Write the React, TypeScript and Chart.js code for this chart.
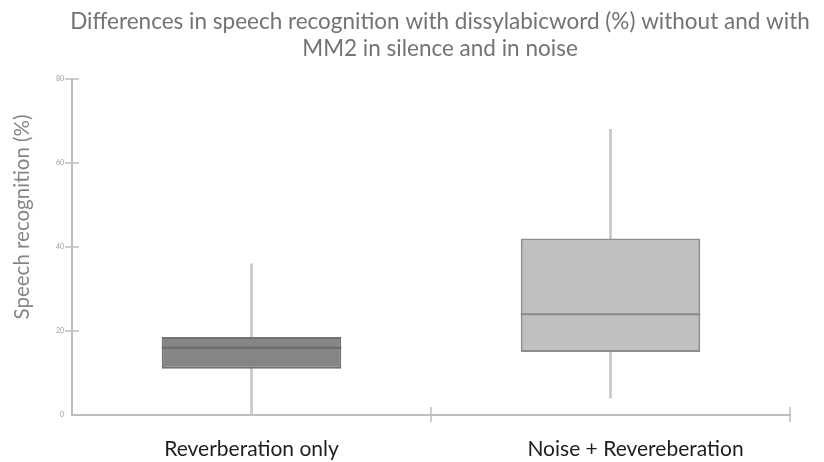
import React, { useEffect, useRef } from 'react';
import { Chart, registerables } from 'chart.js';

Chart.register(...registerables);

const categories = ['Reverberation only', 'Noise + Revereberation'];
const whiskerMin = [0, 4];
const q1 = [11, 15];
const median = [16, 24];
const q3 = [18.6, 42];
const whiskerMax = [36, 68];
const yTicks = [0, 20, 40, 60, 80];
const titleLines = [
  'Differences in speech recognition with dissylabicword (%) without and with',
  'MM2 in silence and in noise',
];
const yTitle = 'Speech recognition (%)';

const FONT = 'Lato, "Open Sans", sans-serif';
const LABEL_SHIFT = [0, 25];

const decorPlugin = {
  id: 'decor',
  afterDraw(chart: any) {
    const ctx = chart.ctx;
    const x = chart.scales.x;
    const y = chart.scales.y;
    const area = chart.chartArea;
    ctx.save();
    // crossing tick marks
    ctx.strokeStyle = '#bdbdbd';
    ctx.lineWidth = 1.5;
    ctx.beginPath();
    y.ticks.forEach((_t: any, i: number) => {
      if (i === 0) return;
      const py = y.getPixelForTick(i);
      ctx.moveTo(area.left - 7, py);
      ctx.lineTo(area.left + 7, py);
    });
    for (let i = 0; i < categories.length; i++) {
      const px = x.getPixelForValue(i + 0.5);
      ctx.moveTo(px, area.bottom - 8);
      ctx.lineTo(px, area.bottom + 7);
    }
    ctx.stroke();
    // category labels
    ctx.fillStyle = '#1e1e1e';
    ctx.font = `21px ${FONT}`;
    ctx.textAlign = 'center';
    ctx.textBaseline = 'middle';
    categories.forEach((c, i) => {
      ctx.fillText(c, x.getPixelForValue(i) + LABEL_SHIFT[i], area.bottom + 34);
    });
    // title
    ctx.fillStyle = '#737373';
    ctx.font = `22.5px ${FONT}`;
    ctx.fillText(titleLines[0], 440, 22);
    ctx.fillText(titleLines[1], 440, 49);
    // y title
    ctx.translate(22, 217);
    ctx.rotate(-Math.PI / 2);
    ctx.fillStyle = '#858585';
    ctx.font = `20.5px ${FONT}`;
    ctx.fillText(yTitle, 0, 0);
    ctx.restore();
  },
};

export default function App() {
  const ref = useRef<HTMLCanvasElement>(null);
  useEffect(() => {
    if (!ref.current) return;
    const chart = new Chart(ref.current, {
      type: 'bar',
      data: {
        labels: categories,
        datasets: [
          {
            type: 'bar',
            label: 'whisker',
            data: whiskerMin.map((v, i) => [v, whiskerMax[i]]),
            backgroundColor: '#c8c8c8',
            borderWidth: 0,
            barThickness: 2,
            grouped: false,
            order: 3,
          } as any,
          {
            type: 'bar',
            label: 'box',
            data: q1.map((v, i) => [v, q3[i]]),
            backgroundColor: ['#858585', '#c0c0c0'],
            borderColor: ['#727272', '#8e8e8e'],
            borderWidth: 2,
            borderSkipped: false,
            barPercentage: 0.5,
            categoryPercentage: 1,
            grouped: false,
            order: 2,
          } as any,
          {
            type: 'line',
            label: 'median',
            data: median,
            showLine: false,
            pointStyle: 'line',
            pointRadius: 89.75,
            pointHoverRadius: 89.75,
            pointBorderWidth: 2,
            pointBorderColor: ['#6a6a6a', '#8a8a8a'],
            clip: false,
            order: 1,
          } as any,
        ],
      },
      options: {
        animation: false,
        responsive: false,
        events: [],
        layout: { autoPadding: false, padding: { top: 79, right: 34, bottom: 0, left: 0 } },
        plugins: {
          legend: { display: false },
          tooltip: { enabled: false },
          title: { display: false },
        },
        scales: {
          x: {
            offset: true,
            grid: { display: false, drawTicks: false },
            border: { color: '#bdbdbd', width: 2 },
            ticks: { display: false },
            afterFit: (s: any) => {
              s.height = 47;
            },
          },
          y: {
            min: 0,
            max: 80,
            grid: { display: false, drawTicks: false },
            border: { color: '#bdbdbd', width: 2 },
            ticks: {
              color: '#9a9a9a',
              font: { family: FONT, size: 7 },
              padding: 8,
            },
            afterBuildTicks: (s: any) => {
              s.ticks = yTicks.map((v) => ({ value: v }));
            },
            afterFit: (s: any) => {
              s.width = 72;
            },
          },
        },
      },
      plugins: [decorPlugin],
    });
    return () => chart.destroy();
  }, []);
  return (
    <div style={{ position: 'fixed', left: 0, top: 0, width: 824, height: 462, background: '#fff' }}>
      <canvas ref={ref} width={824} height={462} />
    </div>
  );
}
